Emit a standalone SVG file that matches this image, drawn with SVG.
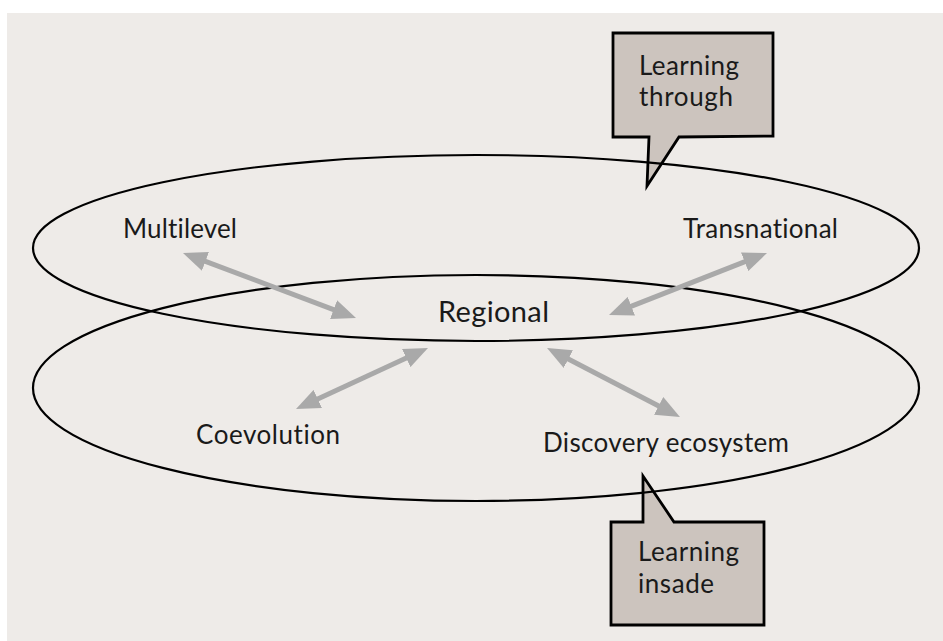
<svg xmlns="http://www.w3.org/2000/svg" width="943" height="641" viewBox="0 0 943 641">
<style>
.lbl{font-family:Lato,"Liberation Sans",sans-serif;font-size:26px;fill:#1a1a1a;font-variant-ligatures:none;font-feature-settings:"liga" 0}
.big{font-size:29px}
.ell{fill:none;stroke:#000;stroke-width:2.2}
.call{fill:#CCC4BE;stroke:#000;stroke-width:2.8;stroke-linejoin:miter}
.arr{stroke:#A9A9A9;stroke-width:5;fill:none;marker-start:url(#ah);marker-end:url(#ah)}
</style>
<defs>
<marker id="ah" markerUnits="userSpaceOnUse" markerWidth="24" markerHeight="20" refX="12" refY="10" orient="auto-start-reverse" viewBox="0 0 24 20">
<path d="M0,0 L24,10 L0,20 Z" fill="#A9A9A9"/>
</marker>
</defs>
<rect x="0" y="0" width="943" height="641" fill="#FFFFFF"/>
<rect x="7" y="13" width="936" height="628" fill="#EEEBE8"/>

<g id="callout-through">
<path class="call" d="M613,33 H773 V136 L679,137 L647,186 L649,137 H613 Z"/>
<text class="lbl" x="639" y="75" textLength="100">Learning</text>
<text class="lbl" x="639" y="106" textLength="94">through</text>
</g>
<g id="callout-insade">
<path class="call" d="M611,522 H643 V476 L674,522 H764 V625 H611 Z"/>
<text class="lbl" x="638" y="561" textLength="101">Learning</text>
<text class="lbl" x="638" y="593" textLength="76">insade</text>
</g>

<g id="ellipse-upper"><ellipse class="ell" cx="476" cy="248" rx="443" ry="93"/></g>
<g id="ellipse-lower"><ellipse class="ell" cx="476" cy="388" rx="443" ry="113"/></g>

<g id="connectors">
<path class="arr" d="M194.2,257.2 L344.8,313.8"/>
<path class="arr" d="M755.8,257.4 L620.2,310.6"/>
<path class="arr" d="M417.1,353 L306.9,404"/>
<path class="arr" d="M557.7,353.5 L669.3,411.5"/>
</g>

<g id="node-multilevel"><text class="lbl" x="123" y="238" textLength="114">Multilevel</text></g>
<g id="node-transnational"><text class="lbl" x="683" y="238" textLength="155">Transnational</text></g>
<g id="node-regional"><text class="lbl big" x="438" y="322" textLength="111">Regional</text></g>
<g id="node-coevolution"><text class="lbl" x="196" y="444" textLength="144">Coevolution</text></g>
<g id="node-discovery"><text class="lbl" x="543" y="452" textLength="246">Discovery ecosystem</text></g>
</svg>
